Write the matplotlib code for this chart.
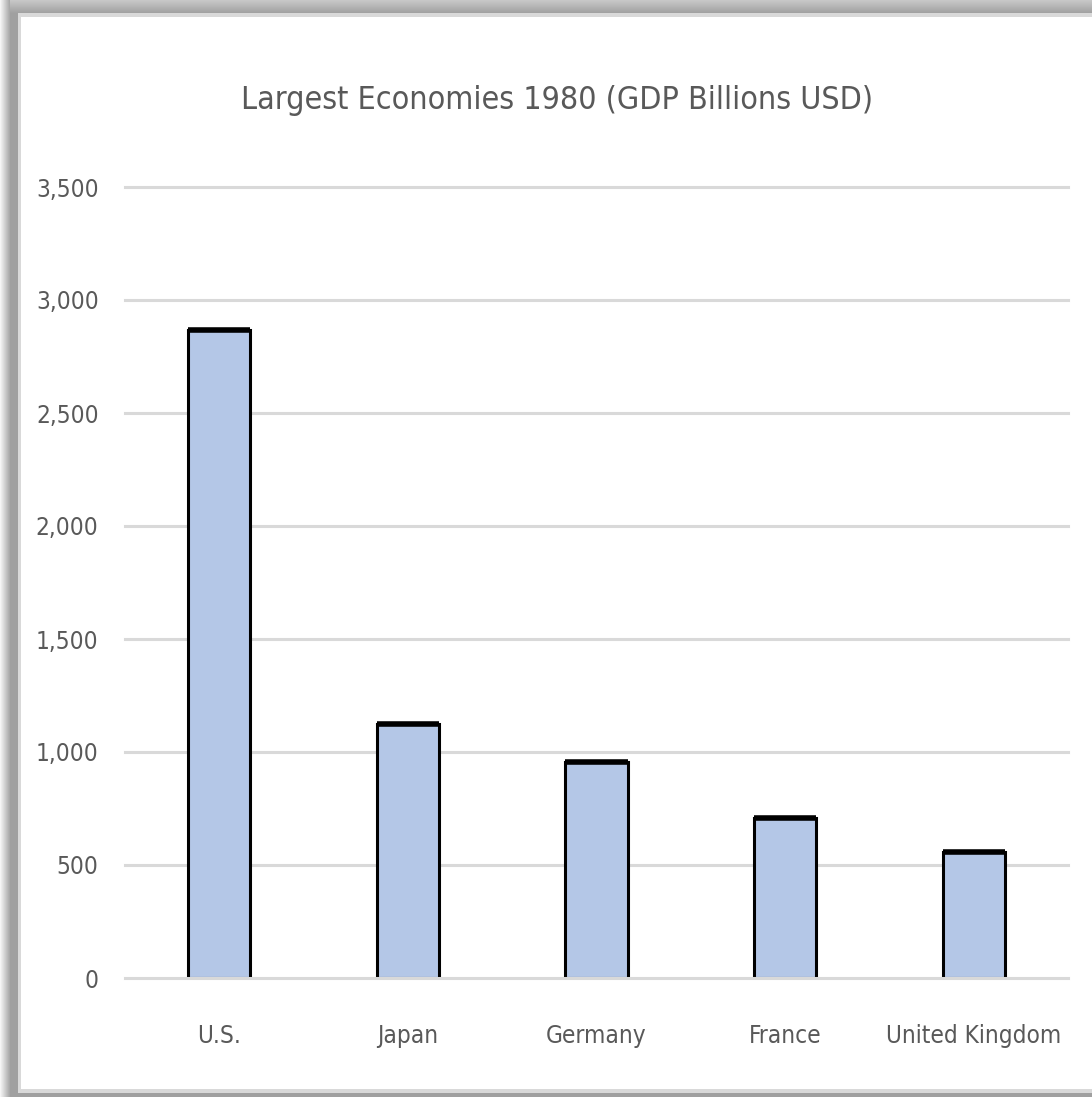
import matplotlib
matplotlib.use("Agg")
import matplotlib.pyplot as plt
from matplotlib.patches import Rectangle
import numpy as np

# data
countries = ["U.S.", "Japan", "Germany", "France", "United Kingdom"]
gdp = [2866, 1125, 957, 710, 558]
yticks = [0, 500, 1000, 1500, 2000, 2500, 3000, 3500]

plt.rcParams['font.family'] = ['DejaVu Sans']
plt.rcParams['font.stretch'] = 'condensed'
txt_color = '#595959'
bar_color = '#b4c7e7'

fig = plt.figure(figsize=(10.92, 10.97), dpi=100)
fig.patch.set_facecolor('#a0a0a0')

W, H = 1092, 1097
def frect(x0, y0, x1, y1, c, z):
    # rectangle in pixel coords measured from the top-left corner
    fig.patches.append(Rectangle((x0 / W, 1 - y1 / H), (x1 - x0) / W, (y1 - y0) / H,
                                 transform=fig.transFigure, facecolor=c,
                                 edgecolor='none', zorder=z))

# soft shadow: left strip fades out, top strip fades in
for i in range(10):
    g = 0.96 - 0.033 * i
    frect(i, 0, i + 1, H, str(g), -20)
for j in range(13):
    g = 0.78 - 0.012 * j
    frect(10, j, W, j + 1, str(g), -19)
frect(18, 13, W, 1093, '#d9d9d9', -18)
frect(21, 17, W, 1089, 'white', -17)

ax = fig.add_axes([125 / W, 1 - 978 / H, (1068 - 125) / W, (978 - 187) / H])
ax.set_facecolor('none')

x = np.arange(len(countries))
width = 0.33
ax.bar(x, gdp, width=width, color=bar_color, edgecolor='black', linewidth=2.2, zorder=3)
# heavier top edge on each bar
ax.hlines(gdp, x - width / 2, x + width / 2, color='black', linewidth=4, zorder=4)

ax.set_xlim(-0.5, len(countries) - 0.5)
ax.set_ylim(0, 3500)
ax.set_yticks(yticks)
ax.set_yticklabels([f"{v:,}" for v in yticks])
ax.set_xticks(x)
ax.set_xticklabels(countries)

for v in yticks:
    ax.axhline(v, color='#d9d9d9', linewidth=2.2, zorder=5 if v == 0 else 1, clip_on=False)

for s in ax.spines.values():
    s.set_visible(False)
ax.tick_params(axis='both', length=0, colors=txt_color, labelsize=17.5)
ax.tick_params(axis='y', pad=19)
ax.tick_params(axis='x', pad=33)

fig.text(557 / W, 1 - 100 / H, "Largest Economies 1980 (GDP Billions USD)",
         ha='center', va='center', fontsize=23, color=txt_color)

fig.savefig("out.png", dpi=100, facecolor=fig.get_facecolor())
